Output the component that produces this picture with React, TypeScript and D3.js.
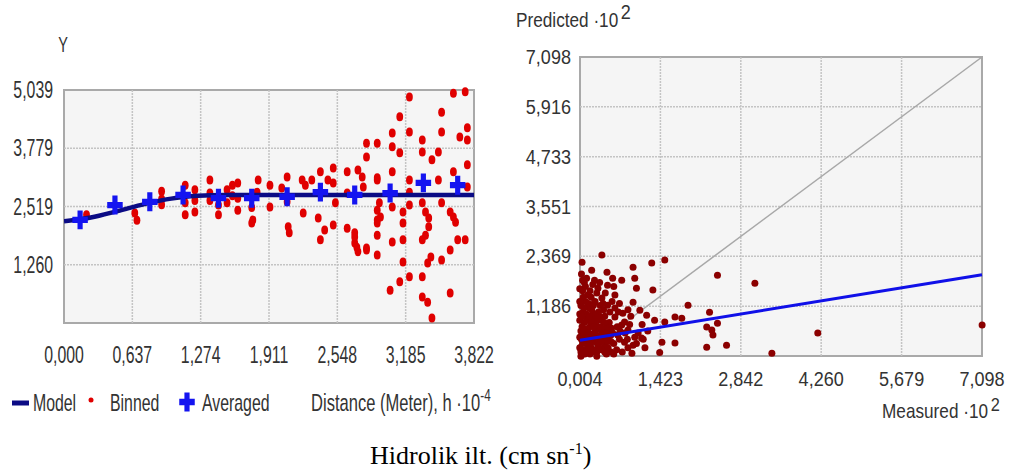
import * as d3 from 'd3';
import type { ReactNode } from 'react';

// Semivariogram (left) — distance h·10^-4, Y values
const lagTicks = [0, 0.637, 1.274, 1.911, 2.548, 3.185, 3.822];
const gammaTicks = [1.26, 2.519, 3.779, 5.039];

const modelCurve: [number, number][] = [
  [0, 2.2], [0.25, 2.28], [0.5, 2.42], [0.75, 2.57], [1.0, 2.69],
  [1.25, 2.75], [1.5, 2.77], [3.822, 2.77],
];

const averaged: [number, number][] = [
  [0.15, 2.23], [0.475, 2.55], [0.8, 2.62], [1.11, 2.77], [1.44, 2.7], [1.75, 2.7],
  [2.08, 2.73], [2.39, 2.83], [2.71, 2.77], [3.04, 2.81], [3.35, 3.03], [3.67, 2.98],
];

const binned: [number, number][] = [
  [0.21, 2.34], [0.66, 2.38], [0.68, 2.22], [0.91, 2.85], [0.91, 2.68], [0.91, 2.56],
  [1.13, 2.98], [1.13, 2.34], [1.13, 2.6], [1.22, 2.88], [1.22, 2.4], [1.22, 2.65],
  [1.36, 3.09], [1.36, 2.81], [1.36, 2.65], [1.44, 2.34], [1.44, 2.55], [1.52, 2.88],
  [1.52, 2.6], [1.57, 2.98], [1.57, 2.75], [1.62, 3.03], [1.62, 2.44], [1.62, 2.7],
  [1.75, 2.16], [1.75, 2.5], [1.81, 3.09], [1.8, 2.83], [1.76, 2.23],
  [1.92, 2.98], [1.92, 2.51], [2.03, 2.92], [2.08, 3.16], [2.08, 2.62], [2.09, 2.08],
  [2.1, 1.95], [2.22, 3.09], [2.23, 2.38], [2.25, 2.98], [2.31, 3.09], [2.39, 3.27],
  [2.37, 2.27], [2.39, 1.8], [2.43, 2.01], [2.46, 3.09], [2.51, 3.35], [2.51, 3.03],
  [2.51, 2.12], [2.53, 2.6], [2.64, 3.27], [2.64, 2.81], [2.64, 2.05], [2.71, 1.86],
  [2.73, 1.64], [2.74, 3.31], [2.78, 3.16], [2.79, 2.94], [2.82, 3.89], [2.82, 3.59],
  [2.82, 1.62], [2.71, 1.95], [2.71, 1.73], [2.74, 1.54], [2.82, 1.58], [2.92, 3.89],
  [2.92, 3.09], [2.92, 2.23], [2.92, 1.9], [2.92, 1.47], [2.94, 2.6], [2.92, 3.14],
  [2.92, 2.44], [2.95, 2.29], [2.92, 2.16],
  [3.06, 4.11], [3.06, 3.81], [3.06, 3.27], [3.06, 2.51], [3.06, 1.75], [3.13, 4.46],
  [3.13, 3.68], [3.16, 2.4], [3.16, 2.16], [3.16, 1.8], [3.16, 1.32], [3.04, 0.71],
  [3.13, 0.89], [3.22, 1.0], [3.22, 4.89], [3.22, 4.13], [3.22, 3.09], [3.22, 2.83],
  [3.22, 2.55], [3.34, 3.96], [3.34, 3.7], [3.34, 2.6], [3.37, 2.4], [3.4, 2.27],
  [3.4, 2.08], [3.37, 1.9], [3.34, 1.8], [3.42, 1.43], [3.39, 1.3], [3.34, 1.0],
  [3.34, 0.56], [3.39, 0.45], [3.43, 0.11], [3.43, 3.53], [3.49, 3.7], [3.49, 3.09],
  [3.52, 4.56], [3.52, 4.13], [3.52, 2.6], [3.52, 1.36], [3.6, 2.4], [3.63, 2.29],
  [3.65, 2.18], [3.6, 1.58], [3.67, 1.8], [3.74, 1.8], [3.6, 0.65], [3.63, 4.97],
  [3.63, 3.27], [3.74, 5.0], [3.69, 4.02], [3.76, 4.22], [3.76, 3.96], [3.76, 3.42],
  [3.76, 2.94],
];

// Cross validation (right) — measured vs predicted ·10^2
const measuredTicks = [0.004, 1.423, 2.842, 4.26, 5.679, 7.098];
const predictedTicks = [1.186, 2.369, 3.551, 4.733, 5.916, 7.098];
const regression: [number, number][] = [[0.004, 0.38], [7.098, 1.93]];

const crossVal: [number, number][] = [
  [0.04, 2.23], [0.39, 2.4], [0.94, 2.11], [1.27, 2.21], [1.5, 2.28], [2.43, 1.92],
  [3.09, 1.73], [3.39, 0.07], [4.2, 0.55], [7.1, 0.74],
  [0.21, 2.04], [0.48, 1.99], [0.05, 1.8], [0.26, 1.8], [0.58, 1.85], [0.74, 1.8],
  [0.97, 1.85], [1.0, 1.61], [1.29, 1.57], [0.49, 1.68], [0.32, 1.61], [0.14, 1.45],
  [0.62, 1.45], [0.94, 1.28], [1.91, 1.21], [2.29, 1.04], [1.06, 1.09], [1.18, 0.97],
  [1.32, 0.85], [1.5, 0.81], [1.68, 0.93], [1.8, 0.9], [2.24, 0.69], [2.33, 0.62],
  [2.43, 0.78], [2.35, 0.5], [1.45, 0.33], [1.68, 0.31], [2.24, 0.21], [2.59, 0.26],
  [1.41, 0.09], [0.92, 0.07], [0.85, 0.62], [0.74, 0.74], [0.56, 0.66], [0.67, 0.5],
  [0.79, 0.33], [0.97, 0.45], [1.09, 0.43], [0.94, 0.26], [0.76, 1.02], [0.62, 0.93],
  [0.79, 0.81], [0.49, 1.21], [0.62, 1.14], [0.39, 1.38], [0.26, 1.28],
  [0.02, 0.1], [0.05, 0.3], [0.1, 0.15], [0.15, 0.4], [0.2, 0.2], [0.25, 0.55],
  [0.3, 0.1], [0.35, 0.35], [0.4, 0.6], [0.45, 0.25], [0.5, 0.45], [0.02, 0.6],
  [0.08, 0.8], [0.12, 1.0], [0.18, 0.7], [0.22, 0.95], [0.28, 0.8], [0.33, 1.05],
  [0.38, 0.85], [0.44, 0.95], [0.02, 1.2], [0.06, 1.05], [0.1, 1.3], [0.16, 1.15],
  [0.2, 1.4], [0.3, 1.5], [0.36, 1.2], [0.42, 1.1], [0.05, 1.55], [0.1, 1.65],
  [0.18, 1.55], [0.03, 1.95], [0.12, 1.85], [0.55, 0.1], [0.6, 0.3], [0.65, 0.15],
  [0.7, 0.4], [0.52, 0.8], [0.58, 0.55], [0.85, 0.2], [1.0, 0.3], [1.15, 0.2],
  [1.2, 0.6], [0.9, 0.95], [1.1, 0.75], [0.05, 0.05], [0.0, 0.45], [0.0, 0.85],
  [0.08, 0.5], [0.13, 0.65], [0.23, 0.35], [0.27, 0.15], [0.32, 0.65], [0.37, 0.5],
  [0.42, 0.4], [0.47, 0.7], [0.14, 0.25], [0.18, 0.05], [0.06, 1.4], [0.26, 1.0],
  [0.31, 0.3], [0.0, 1.0], [0.04, 0.7], [0.09, 0.35], [0.2, 0.85], [0.15, 1.25],
  [0.24, 1.2], [0.35, 0.95], [0.46, 0.55], [0.55, 0.35],
  [0.01, 0.2], [0.03, 0.4], [0.07, 0.6], [0.11, 0.45], [0.16, 0.55], [0.19, 0.3],
  [0.24, 0.45], [0.28, 0.6], [0.34, 0.2], [0.39, 0.15], [0.43, 0.8], [0.48, 0.35],
  [0.53, 0.6], [0.12, 0.85], [0.17, 0.95], [0.21, 1.1], [0.27, 1.3], [0.31, 0.9],
  [0.36, 0.7], [0.41, 1.25], [0.07, 1.15], [0.04, 0.95], [0.09, 0.05], [0.14, 0.1],
  [0.22, 0.1], [0.29, 0.45], [0.33, 0.25], [0.38, 0.35], [0.44, 0.1], [0.5, 0.2],
  [0.53, 1.05], [0.57, 1.3], [0.66, 0.7], [0.71, 0.6], [0.68, 1.05], [0.84, 0.4],
  [0.88, 0.75], [1.03, 0.55], [1.12, 0.4], [0.6, 1.65], [0.7, 1.25], [0.85, 1.1],
  [0.45, 1.5], [0.23, 1.7], [0.08, 1.75], [0.35, 1.75], [0.0, 1.6], [0.0, 0.2],
  [0.0, 1.3], [0.02, 0.0], [0.12, 0.3], [0.19, 0.8], [0.25, 0.7], [0.16, 0.3],
  [0.3, 0.0], [0.47, 0.05], [0.6, 0.05], [0.75, 0.1], [0.8, 0.55], [0.55, 0.5],
];

const FONT = "'Liberation Sans', Arial, sans-serif";
const TXT = '#333';
const fmt = (v: number) => d3.format('.3f')(v).replace('.', ',');

// condensed-looking text: the original uses a narrow UI font
function T({ x, y, size, sx, anchor = 'start', children }: {
  x: number; y: number; size: number; sx: number; anchor?: string; children: ReactNode;
}) {
  return (
    <text transform={`translate(${x},${y}) scale(${sx},1)`} fontSize={size} fill={TXT}
      textAnchor={anchor as any} fontFamily={FONT}>
      {children}
    </text>
  );
}

function Frame({ x0, x1, y0, y1 }: { x0: number; x1: number; y0: number; y1: number }) {
  return (
    <rect x={x0} y={y1} width={x1 - x0} height={y0 - y1} fill="#f5f5f5" stroke="#a9a9a9" strokeWidth={2} />
  );
}

export default function App() {
  // left chart
  const lx = d3.scaleLinear().domain([0, 3.822]).range([64, 474]);
  const ly = d3.scaleLinear().domain([0, 5.039]).range([323, 90]);
  const modelLine = d3.line<[number, number]>()
    .x((d) => lx(d[0]))
    .y((d) => ly(d[1]))
    .curve(d3.curveMonotoneX)(modelCurve) || '';
  const cross = d3.symbol().type(d3.symbolCross).size(165)() || '';

  // right chart
  const rx = d3.scaleLinear().domain([0.004, 7.098]).range([580, 982]);
  const ry = d3.scaleLinear().domain([0.004, 7.098]).range([356, 57]);

  const grid = { stroke: '#c4c4c4', strokeWidth: 1.5, strokeDasharray: '2,1' };
  const LS = 24, LX = 0.66; // left text size / horizontal squeeze
  const RS = 21, RX = 0.86; // right

  return (
    <svg
      width={1017}
      height={474}
      style={{ position: 'absolute', left: 0, top: 0, background: '#fff' }}
    >
      <defs>
        <clipPath id="clipL">
          <rect x={lx(0)} y={ly(5.039) - 4} width={lx(3.822) - lx(0) + 4} height={ly(0) - ly(5.039) + 8} />
        </clipPath>
      </defs>

      {/* ---------- left: semivariogram ---------- */}
      <Frame x0={lx(0)} x1={lx(3.822)} y0={ly(0)} y1={ly(5.039)} />
      {lagTicks.slice(1, -1).map((t) => (
        <line key={'lg' + t} x1={lx(t)} x2={lx(t)} y1={ly(0)} y2={ly(5.039)} {...grid} />
      ))}
      {gammaTicks.slice(0, -1).map((t) => (
        <line key={'gg' + t} x1={lx(0)} x2={lx(3.822)} y1={ly(t)} y2={ly(t)} {...grid} />
      ))}
      <g clipPath="url(#clipL)">
        {binned.map((d, i) => (
          <ellipse key={'b' + i} cx={lx(d[0])} cy={ly(d[1])} rx={3.4} ry={4.5} fill="#e00000" />
        ))}
        <path d={modelLine} fill="none" stroke="#0b0b85" strokeWidth={4.5} />
        {averaged.map((d, i) => (
          <path key={'a' + i} d={cross} transform={`translate(${lx(d[0])},${ly(d[1])}) scale(0.9,1.1)`} fill="#1414f0" />
        ))}
      </g>
      <T x={63} y={52} size={LS - 2} sx={LX} anchor="middle">Y</T>
      {gammaTicks.map((t) => (
        <T key={'gl' + t} x={53} y={ly(t) + 8} size={LS} sx={LX} anchor="end">{fmt(t)}</T>
      ))}
      {lagTicks.map((t) => (
        <T key={'ll' + t} x={lx(t)} y={363} size={LS} sx={LX} anchor="middle">{fmt(t)}</T>
      ))}
      {/* legend */}
      <line x1={12} x2={29} y1={403} y2={403} stroke="#0b0b85" strokeWidth={5} />
      <T x={33} y={411} size={LS} sx={LX}>Model</T>
      <circle cx={91} cy={400} r={2.5} fill="#e00000" />
      <T x={110} y={411} size={LS} sx={LX}>Binned</T>
      <path d={cross} transform="translate(187,402) scale(0.9,1.1)" fill="#1414f0" />
      <T x={202} y={411} size={LS} sx={LX}>Averaged</T>
      <T x={311} y={411} size={LS} sx={0.69}>
        Distance (Meter), h ·10<tspan dy={-10} fontSize={17}>-4</tspan>
      </T>

      {/* ---------- right: cross validation ---------- */}
      <Frame x0={rx(0.004)} x1={rx(7.098)} y0={ry(0.004)} y1={ry(7.098)} />
      {measuredTicks.slice(1, -1).map((t) => (
        <line key={'mg' + t} x1={rx(t)} x2={rx(t)} y1={ry(0.004)} y2={ry(7.098)} {...grid} />
      ))}
      {predictedTicks.slice(0, -1).map((t) => (
        <line key={'pg' + t} x1={rx(0.004)} x2={rx(7.098)} y1={ry(t)} y2={ry(t)} {...grid} />
      ))}
      <line x1={rx(0.004)} y1={ry(0.004)} x2={rx(7.098)} y2={ry(7.098)} stroke="#a8a8a8" strokeWidth={1.5} />
      {crossVal.map((d, i) => (
        <circle key={'c' + i} cx={rx(d[0])} cy={ry(d[1])} r={3.5} fill="#8b0000" />
      ))}
      <line
        x1={rx(regression[0][0])} y1={ry(regression[0][1])}
        x2={rx(regression[1][0])} y2={ry(regression[1][1])}
        stroke="#1010e8" strokeWidth={3}
      />
      <T x={516} y={27} size={RS - 1} sx={RX}>
        Predicted ·10<tspan dx={3} dy={-8} fontSize={RS}>2</tspan>
      </T>
      {predictedTicks.map((t) => (
        <T key={'pl' + t} x={571} y={ry(t) + 7} size={RS} sx={RX} anchor="end">{fmt(t)}</T>
      ))}
      {measuredTicks.map((t) => (
        <T key={'ml' + t} x={rx(t)} y={386} size={RS} sx={RX} anchor="middle">{fmt(t)}</T>
      ))}
      <T x={882} y={418} size={RS - 1} sx={RX}>
        Measured ·10<tspan dx={3} dy={-7} fontSize={RS - 2}>2</tspan>
      </T>

      {/* caption */}
      <text x={370} y={464} fontSize={26} fill="#000" fontFamily="'Liberation Serif', 'Times New Roman', serif">
        Hidrolik ilt. (cm sn<tspan dy={-10} fontSize={16}>-1</tspan><tspan dy={10}>)</tspan>
      </text>
    </svg>
  );
}
